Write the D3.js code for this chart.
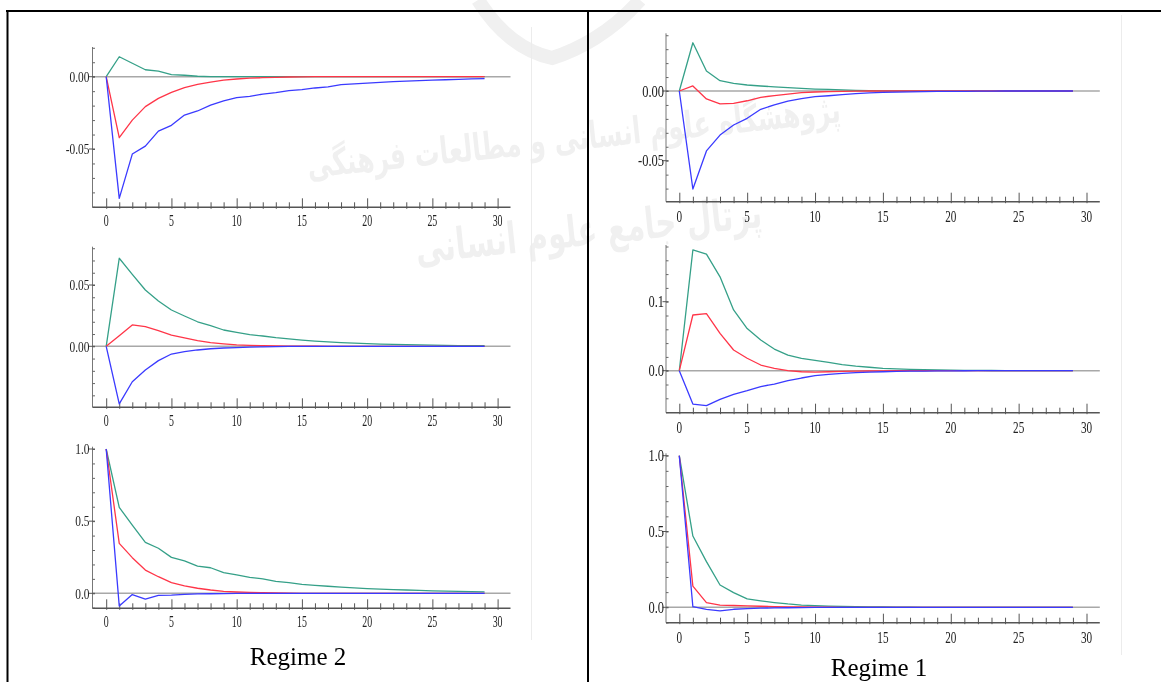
<!DOCTYPE html>
<html><head><meta charset="utf-8">
<script src="https://cdn.jsdelivr.net/npm/d3@7"></script>
<style>
html,body{margin:0;padding:0;background:#fff;}
svg{display:block;}
</style></head>
<body>
<script>
// ---------------- DATA ----------------
const periods = d3.range(0, 30);
const xTickValues = d3.range(0, 31);
const xTickLabels = ["0","5","10","15","20","25","30"];
const regimeLabels = ["Regime 2", "Regime 1"];
const seriesNames = ["green", "red", "blue"];

// Regime 2 (left column)
const r2_p1_green = [0,0.0138,0.0093,0.0048,0.0039,0.0014,0.001,0.0003,0.0001,0,0,0,0,0,0,0,0,0,0,0,0,0,0,0,0,0,0,0,0,0];
const r2_p1_red   = [0,-0.0422,-0.030,-0.0207,-0.015,-0.0108,-0.0076,-0.0053,-0.0037,-0.0023,-0.0016,-0.001,-0.0007,-0.0004,-0.0002,-0.0001,0,0,0,0,0,0,0,0,0,0,0,0,0,0];
const r2_p1_blue  = [0,-0.0841,-0.0535,-0.048,-0.0376,-0.0336,-0.0265,-0.0237,-0.0196,-0.0168,-0.0145,-0.0136,-0.012,-0.011,-0.0097,-0.009,-0.0078,-0.0071,-0.0055,-0.005,-0.0044,-0.0039,-0.0034,-0.003,-0.0027,-0.0024,-0.0021,-0.0018,-0.0015,-0.0013];

const r2_p2_green = [0,0.0718,0.0587,0.0459,0.037,0.0296,0.0247,0.020,0.0168,0.0133,0.0114,0.0095,0.0084,0.007,0.006,0.005,0.0042,0.0036,0.003,0.0026,0.0022,0.0018,0.0015,0.0013,0.0011,0.0009,0.0008,0.0006,0.0005,0.0005];
const r2_p2_red   = [0,0.0087,0.0174,0.016,0.0127,0.0092,0.0068,0.0046,0.003,0.002,0.0012,0.0008,0.0005,0.0003,0.0002,0.0001,0.0001,0,0,0,0,0,0,0,0,0,0,0,0,0];
const r2_p2_blue  = [0,-0.047,-0.0289,-0.0193,-0.0117,-0.0063,-0.0044,-0.003,-0.002,-0.0014,-0.001,-0.0006,-0.0004,-0.0002,-0.0001,0,0,0,0,0,0,0,0,0,0,0,0,0,0,0];

const r2_p3_green = [1.0,0.595,0.473,0.353,0.312,0.249,0.224,0.189,0.177,0.143,0.127,0.111,0.10,0.083,0.074,0.062,0.055,0.049,0.043,0.038,0.033,0.029,0.026,0.023,0.02,0.017,0.015,0.013,0.011,0.01];
const r2_p3_red   = [1.0,0.346,0.247,0.161,0.115,0.074,0.051,0.035,0.023,0.014,0.009,0.006,0.004,0.002,0.001,0,0,0,0,0,0,0,0,0,0,0,0,0,0,0];
const r2_p3_blue  = [1.0,-0.088,-0.009,-0.04,-0.014,-0.012,-0.007,-0.004,-0.003,-0.002,-0.001,0,0,0,0,0,0,0,0,0,0,0,0,0,0,0,0,0,0,0];

// Regime 1 (right column)
const r1_p1_green = [0,0.0346,0.0143,0.0074,0.0055,0.0043,0.0036,0.003,0.0024,0.0019,0.0014,0.0011,0.0008,0.0005,0.0002,0.0001,0,0,0,0,0,0,0,0,0,0,0,0,0,0];
const r1_p1_red   = [0,0.0036,-0.0057,-0.0093,-0.0089,-0.007,-0.0045,-0.0033,-0.0022,-0.0012,-0.0007,-0.0004,-0.0002,-0.0001,0,0,0,0,0,0,0,0,0,0,0,0,0,0,0,0];
const r1_p1_blue  = [0,-0.0703,-0.043,-0.0316,-0.0244,-0.0196,-0.0131,-0.01,-0.0072,-0.0055,-0.0041,-0.0034,-0.0026,-0.0019,-0.0014,-0.001,-0.0008,-0.0006,-0.0004,-0.0003,-0.0002,-0.0002,-0.0001,-0.0001,0,0,0,0,0,0];

const r1_p2_green = [0,0.175,0.169,0.136,0.088,0.061,0.0445,0.0314,0.0227,0.018,0.015,0.012,0.0089,0.0065,0.005,0.0035,0.0027,0.002,0.0015,0.001,0.0007,0.0005,0.0004,0.0003,0.0002,0.0002,0.0001,0.0001,0,0];
const r1_p2_red   = [0,0.0807,0.0826,0.054,0.030,0.018,0.0082,0.0034,0,-0.0015,-0.002,-0.0015,-0.001,-0.0007,-0.0004,-0.0002,0,0,0,0,0,0,0,0,0,0,0,0,0,0];
const r1_p2_blue  = [0,-0.0483,-0.0507,-0.0415,-0.0343,-0.029,-0.023,-0.0193,-0.0145,-0.0106,-0.0072,-0.0053,-0.0039,-0.0029,-0.002,-0.0015,-0.001,-0.0007,-0.0005,-0.0003,-0.0002,-0.0001,0,0,0,0,0,0,0,0];

const r1_p3_green = [1.0,0.47,0.301,0.147,0.097,0.055,0.042,0.031,0.022,0.015,0.011,0.008,0.006,0.004,0.003,0.002,0.001,0.001,0,0,0,0,0,0,0,0,0,0,0,0];
const r1_p3_red   = [1.0,0.14,0.031,0.015,0.012,0.009,0.007,0.005,0.003,0.002,0.001,0.001,0,0,0,0,0,0,0,0,0,0,0,0,0,0,0,0,0,0];
const r1_p3_blue  = [1.0,0.004,-0.013,-0.024,-0.013,-0.009,-0.006,-0.004,-0.003,-0.002,-0.001,0,0,0,0,0,0,0,0,0,0,0,0,0,0,0,0,0,0,0];

// y tick labels per panel
const r2_p1_yLabels = [0.00,-0.05], r2_p2_yLabels = [0.05,0.00], r2_p3_yLabels = [1.0,0.5,0.0];
const r1_p1_yLabels = [0.00,-0.05], r1_p2_yLabels = [0.1,0.0],  r1_p3_yLabels = [1.0,0.5,0.0];

// watermark text
const watermarkLine1 = "پژوهشگاه علوم انسانی و مطالعات فرهنگی";
const watermarkLine2 = "پرتال جامع علوم انسانی";

// ---------------- STYLE / LAYOUT ----------------
const W = 1161, H = 682;
const colors = {green:"#35a088", red:"#ff3548", blue:"#3a3aff"};

const svg = d3.select("body").append("svg").attr("width", W).attr("height", H);

// faint watermark
const wm = svg.append("g").attr("fill", "#000").attr("opacity", 0.06)
  .style("font-family", "'DejaVu Sans', 'Noto Sans', sans-serif").style("font-weight", "bold");
wm.append("path").attr("d", "M478,0 C500,35 525,52 552,58 C578,50 612,32 640,0")
  .attr("fill", "none").attr("stroke", "#000").attr("stroke-width", 14);
wm.append("text").attr("transform", "translate(575,150) rotate(-6) scale(1,1.5)").attr("text-anchor", "middle")
  .attr("font-size", 25).text(watermarkLine1);
wm.append("text").attr("transform", "translate(590,245) rotate(-6) scale(1,1.5)").attr("text-anchor", "middle")
  .attr("font-size", 29).text(watermarkLine2);

// table borders
svg.append("line").attr("x1", 6).attr("x2", W).attr("y1", 11).attr("y2", 11).attr("stroke", "#000").attr("stroke-width", 2);
svg.append("line").attr("x1", 7.5).attr("x2", 7.5).attr("y1", 10).attr("y2", H).attr("stroke", "#000").attr("stroke-width", 2);
svg.append("line").attr("x1", 588).attr("x2", 588).attr("y1", 10).attr("y2", H).attr("stroke", "#000").attr("stroke-width", 2);

// faint image edges
svg.append("line").attr("x1", 531.5).attr("x2", 531.5).attr("y1", 27).attr("y2", 640).attr("stroke", "#ececec");
svg.append("line").attr("x1", 1121.5).attr("x2", 1121.5).attr("y1", 15).attr("y2", 655).attr("stroke", "#ececec");

const columns = [
  { x0: 106.2, x30: 497.6, axL: 92.5, axR: 510.5, yFont: 15, ySx: 0.76, yGap: 3, xFont: 16.5, xSx: 0.6, xOff: 18.5,
    label: regimeLabels[0], labelX: 298, labelY: 665,
    panels: [
      { top: 47, zero: 76.7, refV: -0.05, refY: 149, bottom: 207.3, labels: r2_p1_yLabels, minor: 0.01, fmt: ".2f",
        series: [r2_p1_green, r2_p1_red, r2_p1_blue] },
      { top: 246.7, zero: 346.3, refV: 0.05, refY: 285, bottom: 407.3, labels: r2_p2_yLabels, minor: 0.01, fmt: ".2f",
        series: [r2_p2_green, r2_p2_red, r2_p2_blue] },
      { top: 446.7, zero: 593.3, refV: 1.0, refY: 449, bottom: 608.3, labels: r2_p3_yLabels, minor: 0.1, fmt: ".1f",
        series: [r2_p3_green, r2_p3_red, r2_p3_blue] }
    ]},
  { x0: 679.3, x30: 1086.5, axL: 666, axR: 1099.8, yFont: 16, ySx: 0.78, yGap: 2, xFont: 17.5, xSx: 0.64, xOff: 20,
    label: regimeLabels[1], labelX: 879, labelY: 676,
    panels: [
      { top: 33.3, zero: 91, refV: -0.05, refY: 160.7, bottom: 201.7, labels: r1_p1_yLabels, minor: 0.01, fmt: ".2f",
        series: [r1_p1_green, r1_p1_red, r1_p1_blue] },
      { top: 245, zero: 370.7, refV: 0.1, refY: 301.7, bottom: 412.7, labels: r1_p2_yLabels, minor: 0.02, fmt: ".1f",
        series: [r1_p2_green, r1_p2_red, r1_p2_blue] },
      { top: 453.3, zero: 607.3, refV: 1.0, refY: 455.7, bottom: 622.7, labels: r1_p3_yLabels, minor: 0.1, fmt: ".1f",
        series: [r1_p3_green, r1_p3_red, r1_p3_blue] }
    ]}
];

const fmtMinus = s => s.replace("−", "-");

columns.forEach(col => {
  const x = d3.scaleLinear().domain([0, 30]).range([col.x0, col.x30]);
  col.panels.forEach(p => {
    const y = d3.scaleLinear().domain([0, p.refV]).range([p.zero, p.refY]);
    const yMin = y.invert(p.bottom), yMax = y.invert(p.top);
    const g = svg.append("g");

    // zero line
    g.append("line").attr("x1", col.axL).attr("x2", col.axR).attr("y1", y(0)).attr("y2", y(0))
      .attr("stroke", "#a8a8a8").attr("stroke-width", 1.6);

    // y axis with minor ticks (inward) and major ticks
    const eps = 1e-9;
    const minorVals = d3.range(Math.ceil((yMin - eps) / p.minor), Math.floor((yMax + eps) / p.minor) + 1)
      .map(k => +(k * p.minor).toFixed(6));
    const yAxis = d3.axisLeft(y).tickValues(minorVals).tickSize(0).tickFormat("");
    const ya = g.append("g").attr("transform", `translate(${col.axL},0)`).call(yAxis);
    ya.select(".domain").attr("d", `M0,${p.top}V${p.bottom}`).attr("stroke", "#777").attr("stroke-width", 1);
    ya.selectAll(".tick line").attr("x1", 0).attr("x2", 2.5).attr("stroke", "#666");
    p.labels.forEach(v => {
      g.append("line").attr("x1", col.axL - 3.5).attr("x2", col.axL + 2.5).attr("y1", y(v)).attr("y2", y(v)).attr("stroke", "#555");
      g.append("text")
        .attr("transform", `translate(${col.axL - col.yGap},${y(v)}) scale(${col.ySx},1)`)
        .attr("text-anchor", "end").attr("dy", "0.35em")
        .style("font-family", "'Liberation Serif','Times New Roman',serif").style("font-size", col.yFont + "px")
        .attr("fill", "#222").text(fmtMinus(d3.format(p.fmt)(v)));
    });

    // x axis at the bottom, ticks pointing up
    const xAxis = d3.axisBottom(x).tickValues(xTickValues).tickSize(0).tickFormat("");
    const xa = g.append("g").attr("transform", `translate(0,${p.bottom})`).call(xAxis);
    xa.select(".domain").attr("d", `M${col.axL},0H${col.axR}`).attr("stroke", "#555").attr("stroke-width", 1.6);
    xa.selectAll(".tick line").attr("y1", 1.5).attr("y2", d => d % 5 === 0 ? -9 : -5).attr("stroke", "#555").attr("stroke-width", 1);
    xTickLabels.forEach(t => {
      const v = +t;
      g.append("text")
        .attr("transform", `translate(${x(v)},${p.bottom + col.xOff}) scale(${col.xSx},1)`)
        .attr("text-anchor", "middle")
        .style("font-family", "'Liberation Serif','Times New Roman',serif").style("font-size", col.xFont + "px")
        .attr("fill", "#222").text(t);
    });

    // response lines
    const line = d3.line().x((d, i) => x(periods[i])).y(d => y(d));
    p.series.forEach((s, i) => {
      g.append("path").datum(s).attr("d", line).attr("fill", "none")
        .attr("stroke", colors[seriesNames[i]]).attr("stroke-width", 1.3).attr("stroke-linejoin", "round");
    });
  });

  svg.append("text").attr("x", col.labelX).attr("y", col.labelY).attr("text-anchor", "middle")
    .style("font-family", "'Liberation Serif','Times New Roman',serif").style("font-size", "25px")
    .attr("fill", "#000").text(col.label);
});
</script>
</body></html>
